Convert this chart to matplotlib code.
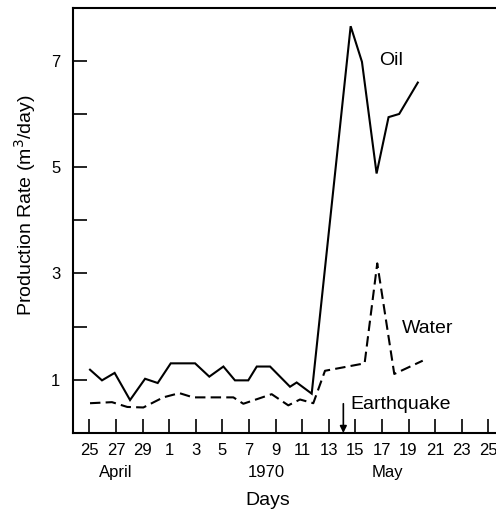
import matplotlib
matplotlib.use("Agg")
import matplotlib.pyplot as plt

plt.rcParams['font.family'] = ['Liberation Sans', 'DejaVu Sans']

# x = days since April 25, 1970
oil_days = [0.05, 0.95, 1.9, 3.06, 4.19, 5.14, 6.12, 7.95, 9.02, 10.08, 10.95, 11.95,
            12.59, 13.59, 15.09, 15.59, 16.72, 19.65, 20.5, 21.6, 22.5, 23.3, 24.7]
oil_vals = [1.19, 0.99, 1.13, 0.62, 1.02, 0.94, 1.31, 1.31, 1.06, 1.25, 0.99, 0.99,
            1.25, 1.25, 0.87, 0.95, 0.74, 7.65, 6.98, 4.88, 5.94, 6.0, 6.59]

water_days = [0.05, 1.7, 2.85, 4.06, 5.56, 6.77, 7.8, 10.83, 11.58, 13.71, 14.96,
              15.84, 16.84, 17.72, 20.7, 21.65, 22.93, 25.07]
water_vals = [0.56, 0.58, 0.49, 0.48, 0.67, 0.75, 0.67, 0.67, 0.55, 0.73, 0.52,
              0.63, 0.56, 1.17, 1.31, 3.19, 1.11, 1.36]

tick_days = list(range(0, 31, 2))
tick_labels = ['25', '27', '29', '1', '3', '5', '7', '9', '11', '13', '15', '17',
               '19', '21', '23', '25']
y_major = [1, 3, 5, 7]
y_minor = [2, 4, 6]
earthquake_day = 19.1

fig = plt.figure(figsize=(4.96, 5.12), dpi=100)
ax = fig.add_axes([73 / 496, 79 / 512, 1 - 73 / 496, (433 - 7.6) / 512])

ax.plot(oil_days, oil_vals, color='black', lw=1.5, solid_joinstyle='miter')
ax.plot(water_days, water_vals, color='black', lw=1.5, linestyle=(0, (5, 2.5)))

ax.set_xlim(-1.23, 30.58)
ax.set_ylim(0, 8)
ax.spines['right'].set_visible(False)
for s in ['left', 'bottom', 'top']:
    ax.spines[s].set_linewidth(1.5)

ax.set_xticks(tick_days)
ax.set_xticklabels(tick_labels, fontsize=12)
ax.set_yticks(y_major)
ax.set_yticklabels([str(v) for v in y_major], fontsize=12)
ax.set_yticks(y_minor, minor=True)
ax.tick_params(axis='both', which='both', direction='in', length=10, width=1.2)
ax.tick_params(axis='x', pad=7)
ax.tick_params(axis='y', pad=9)

xt = ax.get_xaxis_transform()
ax.text(2.0, -0.092, 'April', transform=xt, ha='center', va='center', fontsize=12)
ax.text(13.3, -0.092, '1970', transform=xt, ha='center', va='center', fontsize=12)
ax.text(22.4, -0.092, 'May', transform=xt, ha='center', va='center', fontsize=12)
ax.text(13.4, -0.158, 'Days', transform=xt, ha='center', va='center', fontsize=14)

fig.text(25 / 496, 1 - 205 / 512, 'Production Rate (m$^3$/day)', rotation=90,
         ha='center', va='center', fontsize=14)

ax.text(22.7, 7.0, 'Oil', ha='center', va='center', fontsize=14)
ax.text(25.45, 1.96, 'Water', ha='center', va='center', fontsize=14)
ax.text(19.65, 0.53, 'Earthquake', ha='left', va='center', fontsize=14)
ax.annotate('', xy=(earthquake_day, 0.0), xytext=(earthquake_day, 0.55),
            arrowprops=dict(arrowstyle='-|>', color='black', lw=1.2,
                            mutation_scale=10, shrinkA=0, shrinkB=0))

fig.savefig('out.png', dpi=100)
